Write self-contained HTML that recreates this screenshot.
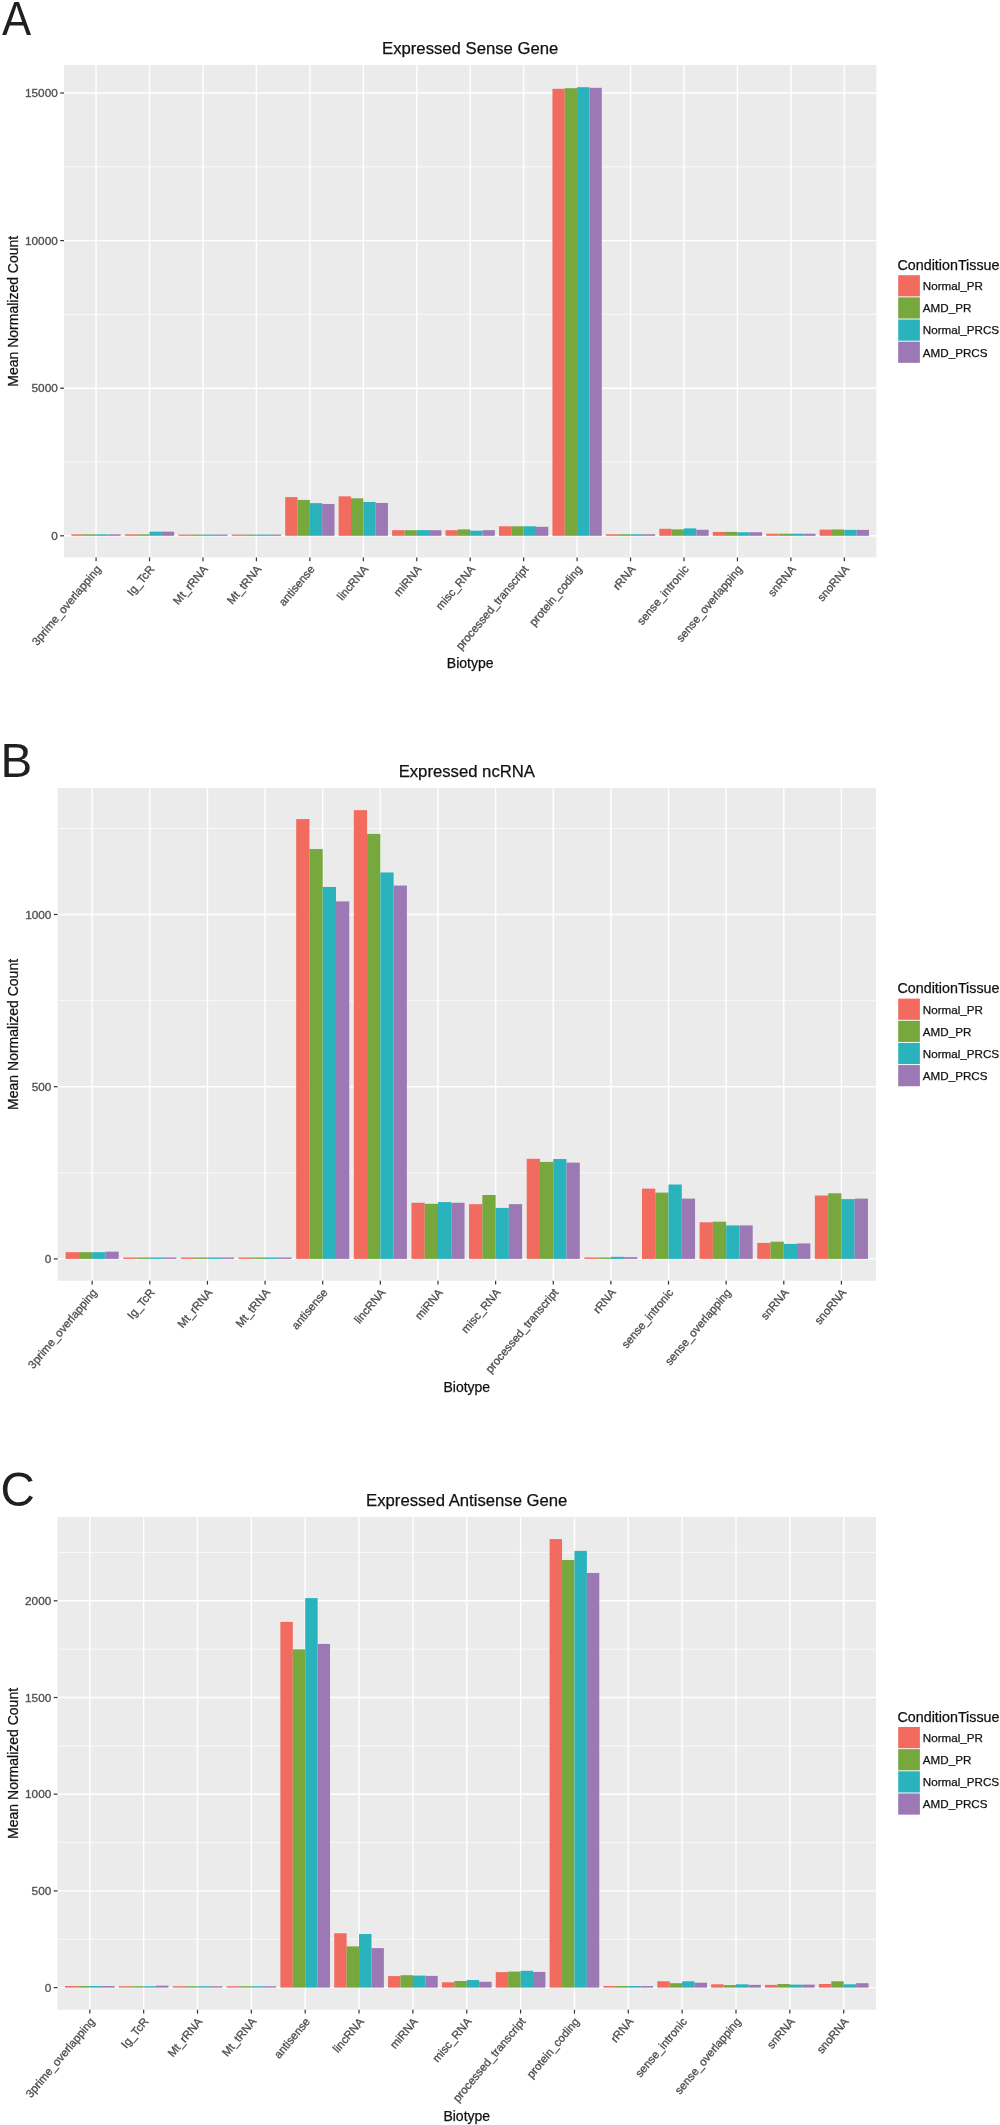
<!DOCTYPE html>
<html><head><meta charset="utf-8"><title>Expressed genes by biotype</title>
<style>
html,body{margin:0;padding:0;background:#fff;}
body{width:1000px;height:2125px;overflow:hidden;font-family:"Liberation Sans", sans-serif;}
svg{display:block;will-change:transform;}
</style></head><body>
<svg width="1000" height="2125" viewBox="0 0 1000 2125">
<style>text{font-family:"Liberation Sans",sans-serif;}.let{font-size:47.5px;fill:#231F20;}.ti{font-size:16.7px;fill:#111;text-anchor:middle;stroke:#111;stroke-width:0.25px;}.at{font-size:14.0px;fill:#111;text-anchor:middle;stroke:#111;stroke-width:0.25px;}.yl{font-size:11.8px;fill:#4D4D4D;text-anchor:end;stroke:#4D4D4D;stroke-width:0.3px;}.xl{font-size:11.4px;fill:#4D4D4D;text-anchor:end;stroke:#4D4D4D;stroke-width:0.3px;}.lt{font-size:14.3px;fill:#111;stroke:#111;stroke-width:0.25px;}.ll{font-size:11.65px;fill:#111;stroke:#111;stroke-width:0.25px;}.gj{stroke:#FFFFFF;stroke-width:1.4px;}.gm{stroke:#FAFAFA;stroke-width:0.9px;}.tk{stroke:#333333;stroke-width:1.2px;}.b0{fill:#F26B5F;}.b1{fill:#76A83E;}.b2{fill:#2AB3BD;}.b3{fill:#9C78B4;}</style>
<rect x="0" y="0" width="1000" height="2125" fill="#FFFFFF"/>
<text class="let" transform="translate(2.1,34.8) scale(0.92,1)">A</text>
<text class="ti" x="470.2" y="54.2">Expressed Sense Gene</text>
<rect x="64" y="65" width="812.4" height="492.5" fill="#EBEBEB"/>
<line class="gm" x1="64" y1="462" x2="876.4" y2="462"/>
<line class="gm" x1="64" y1="314.4" x2="876.4" y2="314.4"/>
<line class="gm" x1="64" y1="166.8" x2="876.4" y2="166.8"/>
<line class="gj" x1="64" y1="535.8" x2="876.4" y2="535.8"/>
<line class="gj" x1="64" y1="388.2" x2="876.4" y2="388.2"/>
<line class="gj" x1="64" y1="240.6" x2="876.4" y2="240.6"/>
<line class="gj" x1="64" y1="93" x2="876.4" y2="93"/>
<line class="gj" x1="96.07" y1="65" x2="96.07" y2="557.5"/>
<line class="gj" x1="149.52" y1="65" x2="149.52" y2="557.5"/>
<line class="gj" x1="202.96" y1="65" x2="202.96" y2="557.5"/>
<line class="gj" x1="256.41" y1="65" x2="256.41" y2="557.5"/>
<line class="gj" x1="309.86" y1="65" x2="309.86" y2="557.5"/>
<line class="gj" x1="363.31" y1="65" x2="363.31" y2="557.5"/>
<line class="gj" x1="416.75" y1="65" x2="416.75" y2="557.5"/>
<line class="gj" x1="470.2" y1="65" x2="470.2" y2="557.5"/>
<line class="gj" x1="523.65" y1="65" x2="523.65" y2="557.5"/>
<line class="gj" x1="577.09" y1="65" x2="577.09" y2="557.5"/>
<line class="gj" x1="630.54" y1="65" x2="630.54" y2="557.5"/>
<line class="gj" x1="683.99" y1="65" x2="683.99" y2="557.5"/>
<line class="gj" x1="737.44" y1="65" x2="737.44" y2="557.5"/>
<line class="gj" x1="790.88" y1="65" x2="790.88" y2="557.5"/>
<line class="gj" x1="844.33" y1="65" x2="844.33" y2="557.5"/>
<rect class="b0" x="71.42" y="534.32" width="12.33" height="1.48"/>
<rect class="b1" x="83.74" y="534.32" width="12.33" height="1.48"/>
<rect class="b2" x="96.07" y="534.32" width="12.33" height="1.48"/>
<rect class="b3" x="108.39" y="534.32" width="12.33" height="1.48"/>
<rect class="b0" x="124.86" y="534.32" width="12.33" height="1.48"/>
<rect class="b1" x="137.19" y="534.32" width="12.33" height="1.48"/>
<rect class="b2" x="149.52" y="531.67" width="12.33" height="4.13"/>
<rect class="b3" x="161.84" y="531.67" width="12.33" height="4.13"/>
<rect class="b0" x="178.31" y="534.56" width="12.33" height="1.24"/>
<rect class="b1" x="190.64" y="534.56" width="12.33" height="1.24"/>
<rect class="b2" x="202.96" y="534.56" width="12.33" height="1.24"/>
<rect class="b3" x="215.29" y="534.56" width="12.33" height="1.24"/>
<rect class="b0" x="231.76" y="534.56" width="12.33" height="1.24"/>
<rect class="b1" x="244.08" y="534.56" width="12.33" height="1.24"/>
<rect class="b2" x="256.41" y="534.56" width="12.33" height="1.24"/>
<rect class="b3" x="268.74" y="534.56" width="12.33" height="1.24"/>
<rect class="b0" x="285.21" y="497.13" width="12.33" height="38.67"/>
<rect class="b1" x="297.53" y="499.93" width="12.33" height="35.87"/>
<rect class="b2" x="309.86" y="503.15" width="12.33" height="32.65"/>
<rect class="b3" x="322.18" y="503.95" width="12.33" height="31.85"/>
<rect class="b0" x="338.65" y="496.33" width="12.33" height="39.47"/>
<rect class="b1" x="350.98" y="498.34" width="12.33" height="37.46"/>
<rect class="b2" x="363.31" y="501.94" width="12.33" height="33.86"/>
<rect class="b3" x="375.63" y="502.94" width="12.33" height="32.86"/>
<rect class="b0" x="392.1" y="530.19" width="12.33" height="5.61"/>
<rect class="b1" x="404.43" y="530.19" width="12.33" height="5.61"/>
<rect class="b2" x="416.75" y="530.13" width="12.33" height="5.67"/>
<rect class="b3" x="429.08" y="530.19" width="12.33" height="5.61"/>
<rect class="b0" x="445.55" y="530.19" width="12.33" height="5.61"/>
<rect class="b1" x="457.87" y="529.39" width="12.33" height="6.41"/>
<rect class="b2" x="470.2" y="530.69" width="12.33" height="5.11"/>
<rect class="b3" x="482.53" y="530.19" width="12.33" height="5.61"/>
<rect class="b0" x="499" y="526.29" width="12.33" height="9.51"/>
<rect class="b1" x="511.32" y="526.29" width="12.33" height="9.51"/>
<rect class="b2" x="523.65" y="526.29" width="12.33" height="9.51"/>
<rect class="b3" x="535.97" y="526.8" width="12.33" height="9"/>
<rect class="b0" x="552.44" y="88.81" width="12.33" height="446.99"/>
<rect class="b1" x="564.77" y="88.19" width="12.33" height="447.61"/>
<rect class="b2" x="577.09" y="87.18" width="12.33" height="448.62"/>
<rect class="b3" x="589.42" y="87.8" width="12.33" height="448"/>
<rect class="b0" x="605.89" y="534.26" width="12.33" height="1.54"/>
<rect class="b1" x="618.22" y="534.26" width="12.33" height="1.54"/>
<rect class="b2" x="630.54" y="534.26" width="12.33" height="1.54"/>
<rect class="b3" x="642.87" y="534.26" width="12.33" height="1.54"/>
<rect class="b0" x="659.34" y="528.8" width="12.33" height="7"/>
<rect class="b1" x="671.66" y="529.39" width="12.33" height="6.41"/>
<rect class="b2" x="683.99" y="528.39" width="12.33" height="7.41"/>
<rect class="b3" x="696.32" y="529.78" width="12.33" height="6.02"/>
<rect class="b0" x="712.79" y="531.9" width="12.33" height="3.9"/>
<rect class="b1" x="725.11" y="531.9" width="12.33" height="3.9"/>
<rect class="b2" x="737.44" y="532.26" width="12.33" height="3.54"/>
<rect class="b3" x="749.76" y="532.26" width="12.33" height="3.54"/>
<rect class="b0" x="766.23" y="533.73" width="12.33" height="2.07"/>
<rect class="b1" x="778.56" y="533.73" width="12.33" height="2.07"/>
<rect class="b2" x="790.88" y="533.73" width="12.33" height="2.07"/>
<rect class="b3" x="803.21" y="533.73" width="12.33" height="2.07"/>
<rect class="b0" x="819.68" y="529.6" width="12.33" height="6.2"/>
<rect class="b1" x="832.01" y="529.48" width="12.33" height="6.32"/>
<rect class="b2" x="844.33" y="529.9" width="12.33" height="5.9"/>
<rect class="b3" x="856.66" y="529.9" width="12.33" height="5.9"/>
<line class="tk" x1="60.2" y1="535.8" x2="64" y2="535.8"/>
<text class="yl" x="57.8" y="539.8">0</text>
<line class="tk" x1="60.2" y1="388.2" x2="64" y2="388.2"/>
<text class="yl" x="57.8" y="392.2">5000</text>
<line class="tk" x1="60.2" y1="240.6" x2="64" y2="240.6"/>
<text class="yl" x="57.8" y="244.6">10000</text>
<line class="tk" x1="60.2" y1="93" x2="64" y2="93"/>
<text class="yl" x="57.8" y="97">15000</text>
<line class="tk" x1="96.07" y1="557.5" x2="96.07" y2="561.3"/>
<text class="xl" transform="translate(101.57,569.5) rotate(-50)">3prime_overlapping</text>
<line class="tk" x1="149.52" y1="557.5" x2="149.52" y2="561.3"/>
<text class="xl" transform="translate(155.02,569.5) rotate(-50)">Ig_TcR</text>
<line class="tk" x1="202.96" y1="557.5" x2="202.96" y2="561.3"/>
<text class="xl" transform="translate(208.46,569.5) rotate(-50)">Mt_rRNA</text>
<line class="tk" x1="256.41" y1="557.5" x2="256.41" y2="561.3"/>
<text class="xl" transform="translate(261.91,569.5) rotate(-50)">Mt_tRNA</text>
<line class="tk" x1="309.86" y1="557.5" x2="309.86" y2="561.3"/>
<text class="xl" transform="translate(315.36,569.5) rotate(-50)">antisense</text>
<line class="tk" x1="363.31" y1="557.5" x2="363.31" y2="561.3"/>
<text class="xl" transform="translate(368.81,569.5) rotate(-50)">lincRNA</text>
<line class="tk" x1="416.75" y1="557.5" x2="416.75" y2="561.3"/>
<text class="xl" transform="translate(422.25,569.5) rotate(-50)">miRNA</text>
<line class="tk" x1="470.2" y1="557.5" x2="470.2" y2="561.3"/>
<text class="xl" transform="translate(475.7,569.5) rotate(-50)">misc_RNA</text>
<line class="tk" x1="523.65" y1="557.5" x2="523.65" y2="561.3"/>
<text class="xl" transform="translate(529.15,569.5) rotate(-50)">processed_transcript</text>
<line class="tk" x1="577.09" y1="557.5" x2="577.09" y2="561.3"/>
<text class="xl" transform="translate(582.59,569.5) rotate(-50)">protein_coding</text>
<line class="tk" x1="630.54" y1="557.5" x2="630.54" y2="561.3"/>
<text class="xl" transform="translate(636.04,569.5) rotate(-50)">rRNA</text>
<line class="tk" x1="683.99" y1="557.5" x2="683.99" y2="561.3"/>
<text class="xl" transform="translate(689.49,569.5) rotate(-50)">sense_intronic</text>
<line class="tk" x1="737.44" y1="557.5" x2="737.44" y2="561.3"/>
<text class="xl" transform="translate(742.94,569.5) rotate(-50)">sense_overlapping</text>
<line class="tk" x1="790.88" y1="557.5" x2="790.88" y2="561.3"/>
<text class="xl" transform="translate(796.38,569.5) rotate(-50)">snRNA</text>
<line class="tk" x1="844.33" y1="557.5" x2="844.33" y2="561.3"/>
<text class="xl" transform="translate(849.83,569.5) rotate(-50)">snoRNA</text>
<text class="at" x="470.2" y="668.4">Biotype</text>
<text class="at" transform="translate(18.3,311.25) rotate(-90)">Mean Normalized Count</text>
<text class="lt" x="897.5" y="269.8">ConditionTissue</text>
<rect class="b0" x="898.2" y="275.2" width="21.7" height="21.2"/>
<text class="ll" x="922.8" y="290.2">Normal_PR</text>
<rect class="b1" x="898.2" y="297.35" width="21.7" height="21.2"/>
<text class="ll" x="922.8" y="312.3">AMD_PR</text>
<rect class="b2" x="898.2" y="319.5" width="21.7" height="21.2"/>
<text class="ll" x="922.8" y="334.4">Normal_PRCS</text>
<rect class="b3" x="898.2" y="341.65" width="21.7" height="21.2"/>
<text class="ll" x="922.8" y="356.5">AMD_PRCS</text>
<text class="let" transform="translate(0.5,776.9) scale(1,1)">B</text>
<text class="ti" x="466.8" y="777.2">Expressed ncRNA</text>
<rect x="57.6" y="788" width="818.4" height="492.8" fill="#EBEBEB"/>
<line class="gm" x1="57.6" y1="1172.8" x2="876" y2="1172.8"/>
<line class="gm" x1="57.6" y1="1000.6" x2="876" y2="1000.6"/>
<line class="gm" x1="57.6" y1="828.4" x2="876" y2="828.4"/>
<line class="gj" x1="57.6" y1="1258.9" x2="876" y2="1258.9"/>
<line class="gj" x1="57.6" y1="1086.7" x2="876" y2="1086.7"/>
<line class="gj" x1="57.6" y1="914.5" x2="876" y2="914.5"/>
<line class="gj" x1="92.18" y1="788" x2="92.18" y2="1280.8"/>
<line class="gj" x1="149.81" y1="788" x2="149.81" y2="1280.8"/>
<line class="gj" x1="207.45" y1="788" x2="207.45" y2="1280.8"/>
<line class="gj" x1="265.08" y1="788" x2="265.08" y2="1280.8"/>
<line class="gj" x1="322.72" y1="788" x2="322.72" y2="1280.8"/>
<line class="gj" x1="380.35" y1="788" x2="380.35" y2="1280.8"/>
<line class="gj" x1="437.98" y1="788" x2="437.98" y2="1280.8"/>
<line class="gj" x1="495.62" y1="788" x2="495.62" y2="1280.8"/>
<line class="gj" x1="553.25" y1="788" x2="553.25" y2="1280.8"/>
<line class="gj" x1="610.88" y1="788" x2="610.88" y2="1280.8"/>
<line class="gj" x1="668.52" y1="788" x2="668.52" y2="1280.8"/>
<line class="gj" x1="726.15" y1="788" x2="726.15" y2="1280.8"/>
<line class="gj" x1="783.79" y1="788" x2="783.79" y2="1280.8"/>
<line class="gj" x1="841.42" y1="788" x2="841.42" y2="1280.8"/>
<rect class="b0" x="65.65" y="1252.18" width="13.27" height="6.72"/>
<rect class="b1" x="78.91" y="1252.18" width="13.27" height="6.72"/>
<rect class="b2" x="92.18" y="1252.18" width="13.27" height="6.72"/>
<rect class="b3" x="105.45" y="1251.67" width="13.27" height="7.23"/>
<rect class="b0" x="123.28" y="1257.52" width="13.27" height="1.38"/>
<rect class="b1" x="136.55" y="1257.52" width="13.27" height="1.38"/>
<rect class="b2" x="149.81" y="1257.52" width="13.27" height="1.38"/>
<rect class="b3" x="163.08" y="1257.52" width="13.27" height="1.38"/>
<rect class="b0" x="180.91" y="1257.52" width="13.27" height="1.38"/>
<rect class="b1" x="194.18" y="1257.52" width="13.27" height="1.38"/>
<rect class="b2" x="207.45" y="1257.52" width="13.27" height="1.38"/>
<rect class="b3" x="220.72" y="1257.52" width="13.27" height="1.38"/>
<rect class="b0" x="238.55" y="1257.52" width="13.27" height="1.38"/>
<rect class="b1" x="251.81" y="1257.52" width="13.27" height="1.38"/>
<rect class="b2" x="265.08" y="1257.52" width="13.27" height="1.38"/>
<rect class="b3" x="278.35" y="1257.52" width="13.27" height="1.38"/>
<rect class="b0" x="296.18" y="819.1" width="13.27" height="439.8"/>
<rect class="b1" x="309.45" y="849.06" width="13.27" height="409.84"/>
<rect class="b2" x="322.72" y="886.95" width="13.27" height="371.95"/>
<rect class="b3" x="335.98" y="901.41" width="13.27" height="357.49"/>
<rect class="b0" x="353.81" y="810.15" width="13.27" height="448.75"/>
<rect class="b1" x="367.08" y="833.91" width="13.27" height="424.99"/>
<rect class="b2" x="380.35" y="872.48" width="13.27" height="386.42"/>
<rect class="b3" x="393.62" y="885.57" width="13.27" height="373.33"/>
<rect class="b0" x="411.45" y="1202.76" width="13.27" height="56.14"/>
<rect class="b1" x="424.72" y="1203.8" width="13.27" height="55.1"/>
<rect class="b2" x="437.98" y="1202.07" width="13.27" height="56.83"/>
<rect class="b3" x="451.25" y="1202.76" width="13.27" height="56.14"/>
<rect class="b0" x="469.08" y="1204.14" width="13.27" height="54.76"/>
<rect class="b1" x="482.35" y="1195.01" width="13.27" height="63.89"/>
<rect class="b2" x="495.62" y="1207.93" width="13.27" height="50.97"/>
<rect class="b3" x="508.88" y="1204.14" width="13.27" height="54.76"/>
<rect class="b0" x="526.72" y="1158.82" width="13.27" height="100.08"/>
<rect class="b1" x="539.98" y="1161.92" width="13.27" height="96.98"/>
<rect class="b2" x="553.25" y="1159.02" width="13.27" height="99.88"/>
<rect class="b3" x="566.52" y="1162.61" width="13.27" height="96.29"/>
<rect class="b0" x="584.35" y="1257.52" width="13.27" height="1.38"/>
<rect class="b1" x="597.62" y="1257.52" width="13.27" height="1.38"/>
<rect class="b2" x="610.88" y="1256.83" width="13.27" height="2.07"/>
<rect class="b3" x="624.15" y="1257.18" width="13.27" height="1.72"/>
<rect class="b0" x="641.98" y="1188.64" width="13.27" height="70.26"/>
<rect class="b1" x="655.25" y="1192.6" width="13.27" height="66.3"/>
<rect class="b2" x="668.52" y="1184.51" width="13.27" height="74.39"/>
<rect class="b3" x="681.79" y="1198.63" width="13.27" height="60.27"/>
<rect class="b0" x="699.62" y="1222.29" width="13.27" height="36.61"/>
<rect class="b1" x="712.88" y="1221.7" width="13.27" height="37.2"/>
<rect class="b2" x="726.15" y="1225.39" width="13.27" height="33.51"/>
<rect class="b3" x="739.42" y="1225.39" width="13.27" height="33.51"/>
<rect class="b0" x="757.25" y="1242.89" width="13.27" height="16.01"/>
<rect class="b1" x="770.52" y="1241.68" width="13.27" height="17.22"/>
<rect class="b2" x="783.79" y="1243.92" width="13.27" height="14.98"/>
<rect class="b3" x="797.05" y="1243.4" width="13.27" height="15.5"/>
<rect class="b0" x="814.88" y="1195.53" width="13.27" height="63.37"/>
<rect class="b1" x="828.15" y="1193.29" width="13.27" height="65.61"/>
<rect class="b2" x="841.42" y="1199.11" width="13.27" height="59.79"/>
<rect class="b3" x="854.69" y="1198.63" width="13.27" height="60.27"/>
<line class="tk" x1="53.8" y1="1258.9" x2="57.6" y2="1258.9"/>
<text class="yl" x="51.4" y="1262.9">0</text>
<line class="tk" x1="53.8" y1="1086.7" x2="57.6" y2="1086.7"/>
<text class="yl" x="51.4" y="1090.7">500</text>
<line class="tk" x1="53.8" y1="914.5" x2="57.6" y2="914.5"/>
<text class="yl" x="51.4" y="918.5">1000</text>
<line class="tk" x1="92.18" y1="1280.8" x2="92.18" y2="1284.6"/>
<text class="xl" transform="translate(97.68,1292.8) rotate(-50)">3prime_overlapping</text>
<line class="tk" x1="149.81" y1="1280.8" x2="149.81" y2="1284.6"/>
<text class="xl" transform="translate(155.31,1292.8) rotate(-50)">Ig_TcR</text>
<line class="tk" x1="207.45" y1="1280.8" x2="207.45" y2="1284.6"/>
<text class="xl" transform="translate(212.95,1292.8) rotate(-50)">Mt_rRNA</text>
<line class="tk" x1="265.08" y1="1280.8" x2="265.08" y2="1284.6"/>
<text class="xl" transform="translate(270.58,1292.8) rotate(-50)">Mt_tRNA</text>
<line class="tk" x1="322.72" y1="1280.8" x2="322.72" y2="1284.6"/>
<text class="xl" transform="translate(328.22,1292.8) rotate(-50)">antisense</text>
<line class="tk" x1="380.35" y1="1280.8" x2="380.35" y2="1284.6"/>
<text class="xl" transform="translate(385.85,1292.8) rotate(-50)">lincRNA</text>
<line class="tk" x1="437.98" y1="1280.8" x2="437.98" y2="1284.6"/>
<text class="xl" transform="translate(443.48,1292.8) rotate(-50)">miRNA</text>
<line class="tk" x1="495.62" y1="1280.8" x2="495.62" y2="1284.6"/>
<text class="xl" transform="translate(501.12,1292.8) rotate(-50)">misc_RNA</text>
<line class="tk" x1="553.25" y1="1280.8" x2="553.25" y2="1284.6"/>
<text class="xl" transform="translate(558.75,1292.8) rotate(-50)">processed_transcript</text>
<line class="tk" x1="610.88" y1="1280.8" x2="610.88" y2="1284.6"/>
<text class="xl" transform="translate(616.38,1292.8) rotate(-50)">rRNA</text>
<line class="tk" x1="668.52" y1="1280.8" x2="668.52" y2="1284.6"/>
<text class="xl" transform="translate(674.02,1292.8) rotate(-50)">sense_intronic</text>
<line class="tk" x1="726.15" y1="1280.8" x2="726.15" y2="1284.6"/>
<text class="xl" transform="translate(731.65,1292.8) rotate(-50)">sense_overlapping</text>
<line class="tk" x1="783.79" y1="1280.8" x2="783.79" y2="1284.6"/>
<text class="xl" transform="translate(789.29,1292.8) rotate(-50)">snRNA</text>
<line class="tk" x1="841.42" y1="1280.8" x2="841.42" y2="1284.6"/>
<text class="xl" transform="translate(846.92,1292.8) rotate(-50)">snoRNA</text>
<text class="at" x="466.8" y="1391.7">Biotype</text>
<text class="at" transform="translate(18.3,1034.4) rotate(-90)">Mean Normalized Count</text>
<text class="lt" x="897.5" y="993.2">ConditionTissue</text>
<rect class="b0" x="898.2" y="998.6" width="21.7" height="21.2"/>
<text class="ll" x="922.8" y="1013.6">Normal_PR</text>
<rect class="b1" x="898.2" y="1020.75" width="21.7" height="21.2"/>
<text class="ll" x="922.8" y="1035.7">AMD_PR</text>
<rect class="b2" x="898.2" y="1042.9" width="21.7" height="21.2"/>
<text class="ll" x="922.8" y="1057.8">Normal_PRCS</text>
<rect class="b3" x="898.2" y="1065.05" width="21.7" height="21.2"/>
<text class="ll" x="922.8" y="1079.9">AMD_PRCS</text>
<text class="let" transform="translate(0.5,1505.6) scale(1,1)">C</text>
<text class="ti" x="466.75" y="1506.2">Expressed Antisense Gene</text>
<rect x="57.5" y="1517" width="818.5" height="492.8" fill="#EBEBEB"/>
<line class="gm" x1="57.5" y1="1939.25" x2="876" y2="1939.25"/>
<line class="gm" x1="57.5" y1="1842.55" x2="876" y2="1842.55"/>
<line class="gm" x1="57.5" y1="1745.85" x2="876" y2="1745.85"/>
<line class="gm" x1="57.5" y1="1649.15" x2="876" y2="1649.15"/>
<line class="gm" x1="57.5" y1="1552.45" x2="876" y2="1552.45"/>
<line class="gj" x1="57.5" y1="1987.6" x2="876" y2="1987.6"/>
<line class="gj" x1="57.5" y1="1890.9" x2="876" y2="1890.9"/>
<line class="gj" x1="57.5" y1="1794.2" x2="876" y2="1794.2"/>
<line class="gj" x1="57.5" y1="1697.5" x2="876" y2="1697.5"/>
<line class="gj" x1="57.5" y1="1600.8" x2="876" y2="1600.8"/>
<line class="gj" x1="89.81" y1="1517" x2="89.81" y2="2009.8"/>
<line class="gj" x1="143.66" y1="1517" x2="143.66" y2="2009.8"/>
<line class="gj" x1="197.51" y1="1517" x2="197.51" y2="2009.8"/>
<line class="gj" x1="251.36" y1="1517" x2="251.36" y2="2009.8"/>
<line class="gj" x1="305.2" y1="1517" x2="305.2" y2="2009.8"/>
<line class="gj" x1="359.05" y1="1517" x2="359.05" y2="2009.8"/>
<line class="gj" x1="412.9" y1="1517" x2="412.9" y2="2009.8"/>
<line class="gj" x1="466.75" y1="1517" x2="466.75" y2="2009.8"/>
<line class="gj" x1="520.6" y1="1517" x2="520.6" y2="2009.8"/>
<line class="gj" x1="574.45" y1="1517" x2="574.45" y2="2009.8"/>
<line class="gj" x1="628.3" y1="1517" x2="628.3" y2="2009.8"/>
<line class="gj" x1="682.14" y1="1517" x2="682.14" y2="2009.8"/>
<line class="gj" x1="735.99" y1="1517" x2="735.99" y2="2009.8"/>
<line class="gj" x1="789.84" y1="1517" x2="789.84" y2="2009.8"/>
<line class="gj" x1="843.69" y1="1517" x2="843.69" y2="2009.8"/>
<rect class="b0" x="64.98" y="1986.05" width="12.42" height="1.55"/>
<rect class="b1" x="77.39" y="1986.05" width="12.42" height="1.55"/>
<rect class="b2" x="89.81" y="1986.05" width="12.42" height="1.55"/>
<rect class="b3" x="102.23" y="1986.05" width="12.42" height="1.55"/>
<rect class="b0" x="118.83" y="1986.25" width="12.42" height="1.35"/>
<rect class="b1" x="131.24" y="1986.25" width="12.42" height="1.35"/>
<rect class="b2" x="143.66" y="1986.25" width="12.42" height="1.35"/>
<rect class="b3" x="156.07" y="1985.67" width="12.42" height="1.93"/>
<rect class="b0" x="172.67" y="1986.25" width="12.42" height="1.35"/>
<rect class="b1" x="185.09" y="1986.25" width="12.42" height="1.35"/>
<rect class="b2" x="197.51" y="1986.25" width="12.42" height="1.35"/>
<rect class="b3" x="209.92" y="1986.25" width="12.42" height="1.35"/>
<rect class="b0" x="226.52" y="1986.25" width="12.42" height="1.35"/>
<rect class="b1" x="238.94" y="1986.25" width="12.42" height="1.35"/>
<rect class="b2" x="251.36" y="1986.25" width="12.42" height="1.35"/>
<rect class="b3" x="263.77" y="1986.25" width="12.42" height="1.35"/>
<rect class="b0" x="280.37" y="1621.88" width="12.42" height="365.72"/>
<rect class="b1" x="292.79" y="1649.34" width="12.42" height="338.26"/>
<rect class="b2" x="305.2" y="1598.09" width="12.42" height="389.51"/>
<rect class="b3" x="317.62" y="1643.93" width="12.42" height="343.67"/>
<rect class="b0" x="334.22" y="1933.25" width="12.42" height="54.35"/>
<rect class="b1" x="346.64" y="1946.41" width="12.42" height="41.19"/>
<rect class="b2" x="359.05" y="1934.03" width="12.42" height="53.57"/>
<rect class="b3" x="371.47" y="1948.15" width="12.42" height="39.45"/>
<rect class="b0" x="388.07" y="1976.09" width="12.42" height="11.51"/>
<rect class="b1" x="400.49" y="1975.22" width="12.42" height="12.38"/>
<rect class="b2" x="412.9" y="1975.61" width="12.42" height="11.99"/>
<rect class="b3" x="425.32" y="1975.9" width="12.42" height="11.7"/>
<rect class="b0" x="441.92" y="1982.3" width="12.42" height="5.3"/>
<rect class="b1" x="454.33" y="1981.02" width="12.42" height="6.58"/>
<rect class="b2" x="466.75" y="1980.06" width="12.42" height="7.54"/>
<rect class="b3" x="479.17" y="1981.8" width="12.42" height="5.8"/>
<rect class="b0" x="495.77" y="1972.13" width="12.42" height="15.47"/>
<rect class="b1" x="508.18" y="1971.55" width="12.42" height="16.05"/>
<rect class="b2" x="520.6" y="1970.77" width="12.42" height="16.83"/>
<rect class="b3" x="533.01" y="1971.93" width="12.42" height="15.67"/>
<rect class="b0" x="549.62" y="1539.11" width="12.42" height="448.49"/>
<rect class="b1" x="562.03" y="1559.99" width="12.42" height="427.61"/>
<rect class="b2" x="574.45" y="1550.9" width="12.42" height="436.7"/>
<rect class="b3" x="586.86" y="1572.95" width="12.42" height="414.65"/>
<rect class="b0" x="603.46" y="1986.05" width="12.42" height="1.55"/>
<rect class="b1" x="615.88" y="1986.05" width="12.42" height="1.55"/>
<rect class="b2" x="628.3" y="1986.05" width="12.42" height="1.55"/>
<rect class="b3" x="640.71" y="1986.05" width="12.42" height="1.55"/>
<rect class="b0" x="657.31" y="1981.3" width="12.42" height="6.3"/>
<rect class="b1" x="669.73" y="1983.19" width="12.42" height="4.41"/>
<rect class="b2" x="682.14" y="1981.3" width="12.42" height="6.3"/>
<rect class="b3" x="694.56" y="1982.71" width="12.42" height="4.89"/>
<rect class="b0" x="711.16" y="1984.31" width="12.42" height="3.29"/>
<rect class="b1" x="723.58" y="1985.09" width="12.42" height="2.51"/>
<rect class="b2" x="735.99" y="1984.31" width="12.42" height="3.29"/>
<rect class="b3" x="748.41" y="1984.89" width="12.42" height="2.71"/>
<rect class="b0" x="765.01" y="1984.89" width="12.42" height="2.71"/>
<rect class="b1" x="777.43" y="1984" width="12.42" height="3.6"/>
<rect class="b2" x="789.84" y="1984.6" width="12.42" height="3"/>
<rect class="b3" x="802.26" y="1984.6" width="12.42" height="3"/>
<rect class="b0" x="818.86" y="1984" width="12.42" height="3.6"/>
<rect class="b1" x="831.27" y="1981.3" width="12.42" height="6.3"/>
<rect class="b2" x="843.69" y="1984.31" width="12.42" height="3.29"/>
<rect class="b3" x="856.11" y="1983.19" width="12.42" height="4.41"/>
<line class="tk" x1="53.7" y1="1987.6" x2="57.5" y2="1987.6"/>
<text class="yl" x="51.3" y="1991.6">0</text>
<line class="tk" x1="53.7" y1="1890.9" x2="57.5" y2="1890.9"/>
<text class="yl" x="51.3" y="1894.9">500</text>
<line class="tk" x1="53.7" y1="1794.2" x2="57.5" y2="1794.2"/>
<text class="yl" x="51.3" y="1798.2">1000</text>
<line class="tk" x1="53.7" y1="1697.5" x2="57.5" y2="1697.5"/>
<text class="yl" x="51.3" y="1701.5">1500</text>
<line class="tk" x1="53.7" y1="1600.8" x2="57.5" y2="1600.8"/>
<text class="yl" x="51.3" y="1604.8">2000</text>
<line class="tk" x1="89.81" y1="2009.8" x2="89.81" y2="2013.6"/>
<text class="xl" transform="translate(95.31,2021.8) rotate(-50)">3prime_overlapping</text>
<line class="tk" x1="143.66" y1="2009.8" x2="143.66" y2="2013.6"/>
<text class="xl" transform="translate(149.16,2021.8) rotate(-50)">Ig_TcR</text>
<line class="tk" x1="197.51" y1="2009.8" x2="197.51" y2="2013.6"/>
<text class="xl" transform="translate(203.01,2021.8) rotate(-50)">Mt_rRNA</text>
<line class="tk" x1="251.36" y1="2009.8" x2="251.36" y2="2013.6"/>
<text class="xl" transform="translate(256.86,2021.8) rotate(-50)">Mt_tRNA</text>
<line class="tk" x1="305.2" y1="2009.8" x2="305.2" y2="2013.6"/>
<text class="xl" transform="translate(310.7,2021.8) rotate(-50)">antisense</text>
<line class="tk" x1="359.05" y1="2009.8" x2="359.05" y2="2013.6"/>
<text class="xl" transform="translate(364.55,2021.8) rotate(-50)">lincRNA</text>
<line class="tk" x1="412.9" y1="2009.8" x2="412.9" y2="2013.6"/>
<text class="xl" transform="translate(418.4,2021.8) rotate(-50)">miRNA</text>
<line class="tk" x1="466.75" y1="2009.8" x2="466.75" y2="2013.6"/>
<text class="xl" transform="translate(472.25,2021.8) rotate(-50)">misc_RNA</text>
<line class="tk" x1="520.6" y1="2009.8" x2="520.6" y2="2013.6"/>
<text class="xl" transform="translate(526.1,2021.8) rotate(-50)">processed_transcript</text>
<line class="tk" x1="574.45" y1="2009.8" x2="574.45" y2="2013.6"/>
<text class="xl" transform="translate(579.95,2021.8) rotate(-50)">protein_coding</text>
<line class="tk" x1="628.3" y1="2009.8" x2="628.3" y2="2013.6"/>
<text class="xl" transform="translate(633.8,2021.8) rotate(-50)">rRNA</text>
<line class="tk" x1="682.14" y1="2009.8" x2="682.14" y2="2013.6"/>
<text class="xl" transform="translate(687.64,2021.8) rotate(-50)">sense_intronic</text>
<line class="tk" x1="735.99" y1="2009.8" x2="735.99" y2="2013.6"/>
<text class="xl" transform="translate(741.49,2021.8) rotate(-50)">sense_overlapping</text>
<line class="tk" x1="789.84" y1="2009.8" x2="789.84" y2="2013.6"/>
<text class="xl" transform="translate(795.34,2021.8) rotate(-50)">snRNA</text>
<line class="tk" x1="843.69" y1="2009.8" x2="843.69" y2="2013.6"/>
<text class="xl" transform="translate(849.19,2021.8) rotate(-50)">snoRNA</text>
<text class="at" x="466.75" y="2120.7">Biotype</text>
<text class="at" transform="translate(18.3,1763.4) rotate(-90)">Mean Normalized Count</text>
<text class="lt" x="897.5" y="1721.6">ConditionTissue</text>
<rect class="b0" x="898.2" y="1727" width="21.7" height="21.2"/>
<text class="ll" x="922.8" y="1742">Normal_PR</text>
<rect class="b1" x="898.2" y="1749.15" width="21.7" height="21.2"/>
<text class="ll" x="922.8" y="1764.1">AMD_PR</text>
<rect class="b2" x="898.2" y="1771.3" width="21.7" height="21.2"/>
<text class="ll" x="922.8" y="1786.2">Normal_PRCS</text>
<rect class="b3" x="898.2" y="1793.45" width="21.7" height="21.2"/>
<text class="ll" x="922.8" y="1808.3">AMD_PRCS</text>
</svg>
</body></html>
